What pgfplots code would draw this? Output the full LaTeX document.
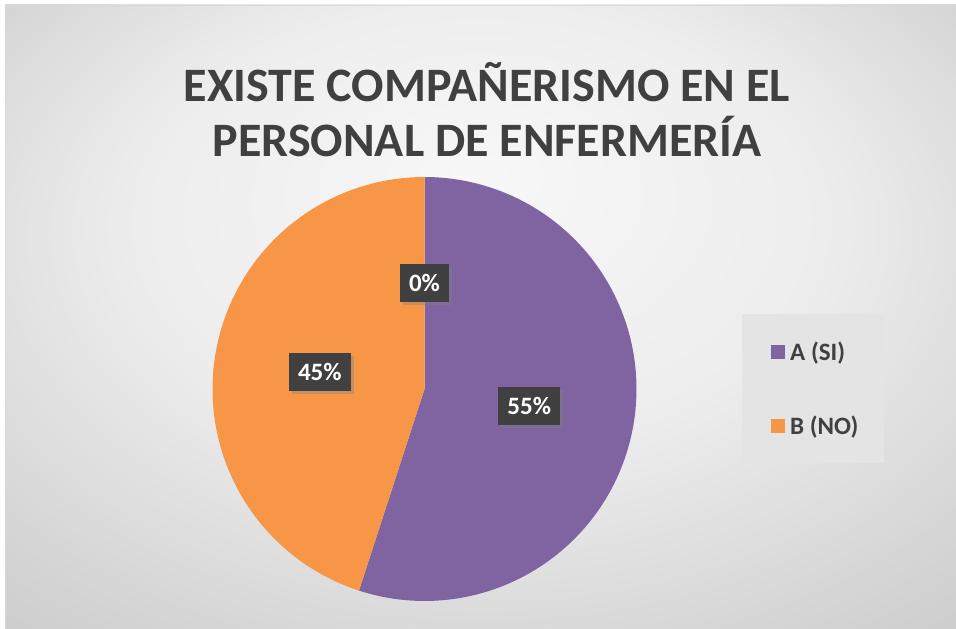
\documentclass[border=0pt]{standalone}
\usepackage{pgfplots}
\pgfplotsset{compat=1.18}
\usepackage{pgfplotstable}
\usepackage{fontspec}
\setmainfont{Carlito}
\usetikzlibrary{shadows}

\definecolor{cA}{HTML}{8064A2}
\definecolor{cB}{HTML}{F79646}
\definecolor{ink}{HTML}{404040}
\definecolor{legbg}{HTML}{E4E4E4}
\definecolor{frame}{HTML}{D9D9D9}

\pgfdeclareradialshading{bgshade}{\pgfpoint{0bp}{12bp}}{%
  color(0bp)=(black!3); color(18bp)=(black!7); color(35bp)=(black!18); color(50bp)=(black!24)}

\tikzset{lbl/.style={fill=ink, text=white, font=\bfseries\fontsize{25}{30}\selectfont,
    text height=17pt, text depth=0pt, inner ysep=10.5pt, inner xsep=9pt,
    drop shadow={shadow xshift=3pt, shadow yshift=-3pt, opacity=0.4}}}

% shares of each answer
\pgfplotstableread{
label value
A 55
B 45
C 0
}\piedata

\pgfplotstablegetelem{0}{value}\of\piedata \let\vA\pgfplotsretval
\pgfplotstablegetelem{1}{value}\of\piedata \let\vB\pgfplotsretval
\pgfplotstablegetelem{2}{value}\of\piedata \let\vC\pgfplotsretval

% slices run clockwise from the top
\pgfmathsetmacro\eA{90-3.6*\vA}
\pgfmathsetmacro\eB{\eA-3.6*\vB}
\pgfmathsetmacro\mA{(90+\eA)/2}
\pgfmathsetmacro\mB{(\eA+\eB)/2}
\pgfmathsetmacro\mC{\eB-1.8*\vC}
\def\cx{424.5}
\def\cy{240}
\def\R{212}

\begin{document}
\begin{tikzpicture}
\useasboundingbox (0,0) rectangle (956pt,629pt);
\fill[white] (0,0) rectangle (956pt,629pt);
\shade[shading=bgshade] (5pt,0) rectangle (956pt,624pt);
\draw[frame, line width=1pt] (5.5pt,0) -- (5.5pt,623.5pt) -- (956pt,623.5pt);
\begin{axis}[
    at={(0pt,0pt)}, anchor=south west,
    scale only axis, width=956pt, height=629pt,
    xmin=0, xmax=956, ymin=0, ymax=629,
    hide axis, clip=false,
    legend style={at={(axis cs:771,240)}, anchor=west, draw=none, fill=none,
        font=\bfseries\fontsize{25}{30}\selectfont, text=ink,
        row sep=49pt, inner sep=0pt,
        /tikz/every odd column/.append style={column sep=3pt}},
    legend cell align=left,
    legend image code/.code={\fill[#1] (0pt,-7pt) rectangle (14pt,7pt);},
]
\fill[legbg] (axis cs:742,166) rectangle (axis cs:884,315);

\addplot[fill=cA, draw=none, domain=\eA:90, samples=160, variable=\t]
    ({\cx+\R*cos(\t)},{\cy+\R*sin(\t)}) -- (axis cs:\cx,\cy) -- cycle;
\addlegendentry{A (SI)}
\addplot[fill=cB, draw=none, domain=\eB:\eA, samples=140, variable=\t]
    ({\cx+\R*cos(\t)},{\cy+\R*sin(\t)}) -- (axis cs:\cx,\cy) -- cycle;
\addlegendentry{B (NO)}

\node[lbl] at (axis cs:{\cx+0.5*\R*cos(\mA)},{\cy+0.5*\R*sin(\mA)}) {\vA\%};
\node[lbl] at (axis cs:{\cx+0.5*\R*cos(\mB)},{\cy+0.5*\R*sin(\mB)}) {\vB\%};
\node[lbl] at (axis cs:{\cx+0.5*\R*cos(\mC)},{\cy+0.5*\R*sin(\mC)}) {\vC\%};

\node[anchor=base, font=\bfseries\fontsize{48}{57}\selectfont, text=ink]
    at (axis cs:487,527) {EXISTE COMPAÑERISMO EN EL};
\node[anchor=base, font=\bfseries\fontsize{48}{57}\selectfont, text=ink]
    at (axis cs:487,472) {PERSONAL DE ENFERMERÍA};
\end{axis}
\end{tikzpicture}
\end{document}
